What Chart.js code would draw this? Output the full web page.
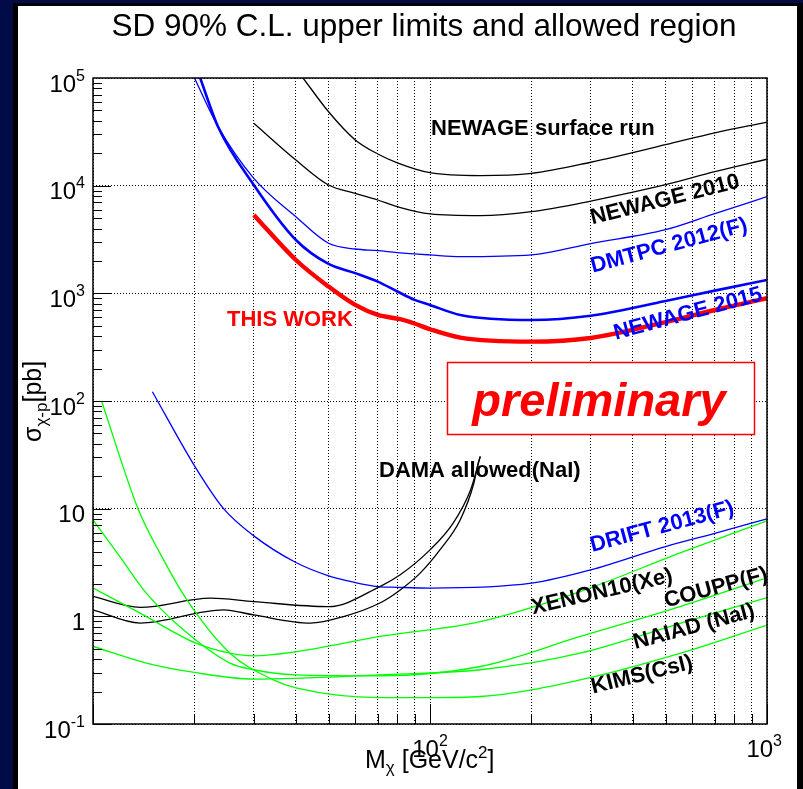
<!DOCTYPE html>
<html>
<head>
<meta charset="utf-8">
<title>SD 90% C.L. upper limits and allowed region</title>
<script src="https://cdn.jsdelivr.net/npm/chart.js@4.4.0/dist/chart.umd.min.js"></script>
<style>
  html, body { margin: 0; padding: 0; }
  body { width: 803px; height: 789px; background: #000b47; position: relative; overflow: hidden; }
  #edge { position: absolute; left: 13px; top: 3px; width: 790px; height: 786px; background: #000; }
  #sheet { position: absolute; left: 18px; top: 6px; width: 779px; height: 783px; background: #fff; }
  #limits { position: absolute; left: 0; top: 0; }
</style>
</head>
<body>
<div id="edge"></div>
<div id="sheet"></div>
<canvas id="limits" width="803" height="789"></canvas>
<script>
// ===============================
// 1. DATA  (WIMP mass in GeV/c^2, cross section in pb)
// ===============================
const xTickValues = [10, 20, 30, 40, 50, 60, 70, 80, 90, 100, 200, 300, 400, 500, 600, 700, 800, 900, 1000];
const yTickValues = [0.1, 1, 10, 100, 1000, 10000, 100000];
const yTickLabels = [["10", "-1"], ["1", ""], ["10", ""], ["10", "2"], ["10", "3"], ["10", "4"], ["10", "5"]];
const xLabelValues = [100, 1000];
const xTickLabels = [["10", "2"], ["10", "3"]];

// NEWAGE surface run
const surfaceMass  = [42, 50, 60, 70, 80, 100, 141, 200, 300, 500, 700, 1000];
const surfaceSigma = [100000, 48600, 26600, 19700, 16300, 13200, 12400, 13000, 16500, 24000, 31000, 39000];

// NEWAGE 2010
const n2010Mass  = [30, 40, 50, 60, 70, 80, 100, 141, 200, 300, 500, 700, 1000];
const n2010Sigma = [38000, 17300, 10150, 8490, 7360, 6380, 5460, 5265, 5735, 7200, 10200, 13500, 17600];

// DMTPC 2012 (F)
const dmtpcMass  = [20, 23.5, 30, 40, 50, 60, 70, 80, 100, 123, 200, 300, 500, 700, 1000];
const dmtpcSigma = [100000, 35300, 11700, 5150, 2920, 2580, 2490, 2390, 2275, 2190, 2275, 2900, 3900, 5500, 7900];

// NEWAGE 2015
const n2015Mass  = [20.8, 23.5, 30, 40, 50, 60, 70, 80, 90, 100, 123, 200, 300, 500, 700, 1000];
const n2015Sigma = [100000, 35300, 10150, 3130, 1875, 1540, 1285, 1040, 869, 780, 630, 566, 620, 850, 1060, 1330];

// this work
const thisMass  = [30, 40, 50, 60, 70, 81.6, 89.5, 100, 123, 200, 300, 500, 700, 1000];
const thisSigma = [5350, 2040, 1155, 780, 630, 575, 527, 464, 388, 356, 385, 540, 700, 900];

// DRIFT 2013 (F)
const driftMass  = [15, 20.2, 24.4, 30, 40, 50, 60, 70, 80, 100, 200, 300, 500, 700, 1000];
const driftSigma = [122, 23.8, 10, 5.59, 3.16, 2.38, 2.06, 1.89, 1.86, 1.83, 2.03, 2.7, 4.45, 5.9, 8.04];

// DAMA allowed region (NaI), two edges of the contour
const damaUpperMass  = [10, 13.8, 22.3, 30, 50, 71, 81.6, 100, 117, 132, 141];
const damaUpperSigma = [1.53, 1.21, 1.476, 1.37, 1.23, 1.89, 2.43, 4.14, 7.3, 15, 30.5];
const damaLowerMass  = [10, 13.8, 24.4, 30, 44.2, 55.4, 71, 81.6, 93.5, 107, 123, 135, 139, 141];
const damaLowerSigma = [1.15, 0.865, 1.15, 1.03, 0.865, 0.995, 1.33, 1.76, 2.52, 4.14, 7.9, 17.3, 26.4, 30.5];

// XENON10 (Xe)
const xenonMass  = [10, 13.8, 20.2, 25.5, 30, 40.3, 71, 141, 279, 555, 1000];
const xenonSigma = [1.83, 1.07, 0.564, 0.455, 0.43, 0.471, 0.65, 0.895, 1.7, 3.9, 7.7];

// COUPP (F)
const couppMass  = [10, 12, 14.4, 18.1, 25.5, 30, 39.8, 71, 141, 279, 555, 1000];
const couppSigma = [7.87, 3.6, 1.64, 0.8, 0.368, 0.319, 0.286, 0.28, 0.342, 0.65, 1.24, 2.28];

// NAIAD (NaI)
const naiadMass  = [10, 14.4, 20, 30, 71, 141, 279, 555, 1000];
const naiadSigma = [0.525, 0.368, 0.301, 0.261, 0.286, 0.319, 0.455, 0.865, 1.49];

// KIMS (CsI)
const kimsMass  = [10.6, 13.6, 15.8, 19, 25.5, 34.3, 40.3, 71, 100, 141, 279, 555, 1000];
const kimsSigma = [100, 10, 3.86, 1.42, 0.455, 0.257, 0.215, 0.176, 0.176, 0.18, 0.257, 0.455, 0.83];

// ===============================
// 2. HELPERS
// ===============================
const FONT = '"Liberation Sans", Arial, Helvetica, sans-serif';

function curve(label, mass, sigma, color, width) {
  return {
    label,
    data: mass.map((m, i) => ({ x: m, y: sigma[i] })),
    borderColor: color,
    borderWidth: width,
    showLine: true,
    pointRadius: 0,
    fill: false,
    cubicInterpolationMode: "monotone",
    clip: 0
  };
}

// draws text pieces one after another: [text, size, shiftY]
function drawRuns(ctx, runs, x, y, weight) {
  runs.forEach(([t, size, dy]) => {
    ctx.font = `${weight || ""} ${size}px ${FONT}`;
    ctx.fillText(t, x, y + dy);
    x += ctx.measureText(t).width;
  });
  return x;
}

function runsWidth(ctx, runs, weight) {
  let w = 0;
  runs.forEach(([t, size]) => {
    ctx.font = `${weight || ""} ${size}px ${FONT}`;
    w += ctx.measureText(t).width;
  });
  return w;
}

function powerRuns(pair) {
  return pair[1] ? [[pair[0], 24, 0], [pair[1], 16, -11]] : [[pair[0], 24, 0]];
}

function tiltedLabel(ctx, text, cx, cy, angle, color) {
  ctx.save();
  ctx.translate(cx, cy);
  ctx.rotate(angle * Math.PI / 180);
  ctx.fillStyle = color;
  ctx.font = `bold 22px ${FONT}`;
  ctx.textAlign = "center";
  ctx.textBaseline = "middle";
  ctx.fillText(text, 0, 0);
  ctx.restore();
}

// ===============================
// 3. DECORATIONS (labels, ticks, frame)
// ===============================
const decorations = {
  id: "decorations",
  afterDatasetsDraw(chart) {
    const ctx = chart.ctx;
    ctx.save();

    // preliminary stamp
    ctx.fillStyle = "#fff";
    ctx.fillRect(447, 362, 308, 73);
    ctx.strokeStyle = "#ff0000";
    ctx.lineWidth = 1.5;
    ctx.strokeRect(447.5, 362.5, 307, 72);
    ctx.fillStyle = "#ff0000";
    ctx.font = `italic bold 47px ${FONT}`;
    ctx.textAlign = "center";
    ctx.fillText("preliminary", 599, 416);

    ctx.textAlign = "left";
    ctx.font = `bold 22px ${FONT}`;
    ctx.fillText("THIS WORK", 227, 326);

    ctx.fillStyle = "#000";
    ctx.fillText("NEWAGE surface run", 431, 135);
    ctx.fillText("DAMA allowed(NaI)", 379, 477);

    tiltedLabel(ctx, "NEWAGE 2010", 665, 200, -14, "#000");
    tiltedLabel(ctx, "DMTPC 2012(F)", 669, 246, -15, "#0000ff");
    tiltedLabel(ctx, "NEWAGE 2015", 688, 314, -15, "#0000ff");
    tiltedLabel(ctx, "DRIFT 2013(F)", 662, 527, -15, "#0000ff");
    tiltedLabel(ctx, "XENON10(Xe)", 602, 592, -13, "#000");
    tiltedLabel(ctx, "COUPP(F)", 716, 588, -15, "#000");
    tiltedLabel(ctx, "NAIAD (NaI)", 694, 627, -15, "#000");
    tiltedLabel(ctx, "KIMS(CsI)", 642, 675, -14, "#000");
    ctx.restore();
  },
  afterDraw(chart) {
    const ctx = chart.ctx;
    const a = chart.chartArea;
    const xs = chart.scales.x;
    const ys = chart.scales.y;
    ctx.save();

    // inward tick marks
    ctx.strokeStyle = "#000";
    ctx.lineWidth = 1;
    ctx.beginPath();
    for (let e = -1; e <= 4; e++) {
      for (let k = 1; k <= 9; k++) {
        const y = Math.round(ys.getPixelForValue(k * Math.pow(10, e))) + 0.5;
        ctx.moveTo(a.left, y);
        ctx.lineTo(a.left + (k === 1 ? 18 : 9), y);
      }
    }
    xTickValues.forEach(v => {
      const x = Math.round(xs.getPixelForValue(v)) + 0.5;
      const major = v === 10 || v === 100 || v === 1000;
      ctx.moveTo(x, a.bottom);
      ctx.lineTo(x, a.bottom - (major ? 20 : 10));
    });
    ctx.stroke();

    // frame
    ctx.lineWidth = 1.5;
    ctx.strokeRect(a.left, a.top, a.right - a.left, a.bottom - a.top);

    // tick labels
    ctx.fillStyle = "#000";
    ctx.textAlign = "left";
    ctx.textBaseline = "alphabetic";
    yTickValues.forEach((v, i) => {
      const runs = powerRuns(yTickLabels[i]);
      const y = ys.getPixelForValue(v) + 13.5;
      drawRuns(ctx, runs, 85 - runsWidth(ctx, runs), y);
    });
    xLabelValues.forEach((v, i) => {
      const runs = powerRuns(xTickLabels[i]);
      const w = runsWidth(ctx, runs);
      let x = xs.getPixelForValue(v) - w / 2;
      if (x + w > 782) x = 782 - w;
      drawRuns(ctx, runs, x, 757);
    });

    // axis titles
    drawRuns(ctx, [["M", 25, 0], ["\u03c7", 17, 5], [" [GeV/c", 25, 0], ["2", 17, -10], ["]", 25, 0]], 365, 768);

    ctx.save();
    ctx.translate(41, 442);
    ctx.rotate(-Math.PI / 2);
    drawRuns(ctx, [["\u03c3", 25, 0], ["\u03c7-p", 17, 6], ["[pb]", 25, 0]], 0, 0);
    ctx.restore();

    // title
    ctx.textAlign = "center";
    ctx.font = `31.5px ${FONT}`;
    ctx.fillText("SD 90% C.L. upper limits and allowed region", 424, 36);
    ctx.restore();
  }
};

// ===============================
// 4. CHART
// ===============================
const gridBase = {
  color: "#000",
  lineWidth: 1,
  drawTicks: false
};

new Chart(document.getElementById("limits"), {
  type: "scatter",
  data: {
    datasets: [
      curve("XENON10(Xe)", xenonMass, xenonSigma, "#00ff00", 1.3),
      curve("COUPP(F)", couppMass, couppSigma, "#00ff00", 1.3),
      curve("NAIAD (NaI)", naiadMass, naiadSigma, "#00ff00", 1.3),
      curve("KIMS(CsI)", kimsMass, kimsSigma, "#00ff00", 1.3),
      curve("DAMA allowed (NaI) upper", damaUpperMass, damaUpperSigma, "#000", 1.3),
      curve("DAMA allowed (NaI) lower", damaLowerMass, damaLowerSigma, "#000", 1.3),
      curve("NEWAGE surface run", surfaceMass, surfaceSigma, "#000", 1.3),
      curve("NEWAGE 2010", n2010Mass, n2010Sigma, "#000", 1.3),
      curve("DRIFT 2013(F)", driftMass, driftSigma, "#0000ff", 1.3),
      curve("DMTPC 2012(F)", dmtpcMass, dmtpcSigma, "#0000ff", 1.3),
      curve("NEWAGE 2015", n2015Mass, n2015Sigma, "#0000ff", 2.6),
      curve("THIS WORK", thisMass, thisSigma, "#ff0000", 4.4)
    ]
  },
  options: {
    responsive: false,
    animation: false,
    events: [],
    layout: { padding: { top: 78, right: 36, left: 0, bottom: 0 } },
    plugins: {
      legend: { display: false },
      tooltip: { enabled: false },
      title: { display: false }
    },
    scales: {
      x: {
        type: "logarithmic",
        min: 10,
        max: 1000,
        ticks: { display: false, autoSkip: false },
        grid: gridBase,
        border: { display: false, dash: [1, 2] },
        afterBuildTicks: scale => { scale.ticks = xTickValues.map(v => ({ value: v })); },
        afterFit: scale => { scale.height = 65; }
      },
      y: {
        type: "logarithmic",
        min: 0.1,
        max: 100000,
        ticks: { display: false, autoSkip: false },
        grid: gridBase,
        border: { display: false, dash: [1, 2] },
        afterBuildTicks: scale => { scale.ticks = yTickValues.map(v => ({ value: v })); },
        afterFit: scale => { scale.width = 93; }
      }
    }
  },
  plugins: [decorations]
});
</script>
</body>
</html>
